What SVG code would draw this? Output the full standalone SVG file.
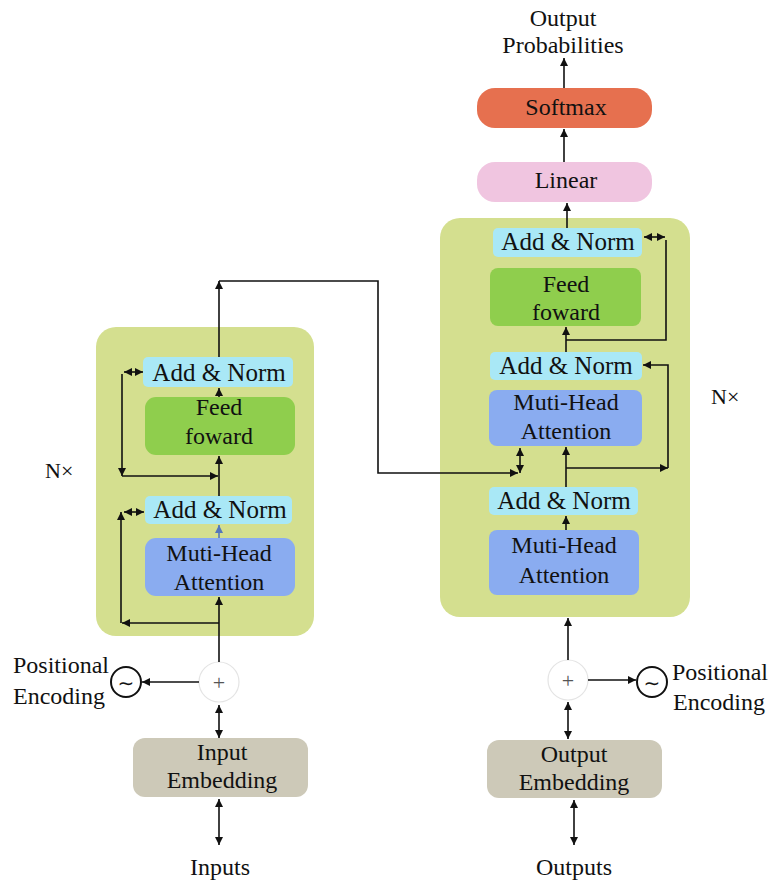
<svg xmlns="http://www.w3.org/2000/svg" width="772" height="883" viewBox="0 0 772 883">
<style>
text{font-family:"Liberation Serif","Times New Roman",serif;font-size:24px;fill:#111;text-anchor:middle}
.big{font-size:25px}
.cont{fill:#d4df8f}
.an{fill:#a9e8f6}
.ff{fill:#8fce4d}
.mha{fill:#8aacf0}
.emb{fill:#cdc9b8}
.ln{stroke:#111;stroke-width:1.6;fill:none}
.pe{fill:#fff;stroke:#111;stroke-width:2}
.plus{fill:#fff;stroke:#e4e4e4;stroke-width:1.2}
.lab{text-anchor:start}
</style>
<defs>
<marker id="ah" viewBox="0 0 10 10" refX="10" refY="5" markerWidth="9" markerHeight="8" markerUnits="userSpaceOnUse" orient="auto-start-reverse"><path d="M0,0 L10,5 L0,10 z" fill="#111"/></marker>
<marker id="ahb" viewBox="0 0 10 10" refX="10" refY="5" markerWidth="9" markerHeight="8" markerUnits="userSpaceOnUse" orient="auto"><path d="M0,0 L10,5 L0,10 z" fill="#5577bb"/></marker>
</defs>
<rect width="772" height="883" fill="#fff"/>

<g id="encoder">
<rect class="cont" x="96" y="327" width="218" height="309" rx="20"/>
</g>
<g id="decoder">
<rect class="cont" x="440" y="218" width="250" height="399" rx="20"/>
</g>

<g id="enc-addnorm2"><rect class="an" x="143" y="357" width="150" height="30" rx="5"/><text class="big" x="219" y="381">Add &amp; Norm</text></g>
<g id="enc-ff"><rect class="ff" x="145" y="397" width="150" height="58" rx="11"/><text x="219" y="415">Feed</text><text x="219" y="444">foward</text></g>
<g id="enc-addnorm1"><rect class="an" x="145" y="496" width="147" height="28" rx="5"/><text class="big" x="220" y="518">Add &amp; Norm</text></g>
<g id="enc-mha"><rect class="mha" x="145" y="538" width="150" height="58" rx="11"/><text x="219" y="561">Muti-Head</text><text x="219" y="590">Attention</text></g>

<g id="dec-addnorm3"><rect class="an" x="493" y="228" width="149" height="29" rx="5"/><text class="big" x="568" y="250">Add &amp; Norm</text></g>
<g id="dec-ff"><rect class="ff" x="490" y="268" width="151" height="58" rx="8"/><text x="566" y="292">Feed</text><text x="566" y="320">foward</text></g>
<g id="dec-addnorm2"><rect class="an" x="490" y="352" width="152" height="28" rx="5"/><text class="big" x="566" y="374">Add &amp; Norm</text></g>
<g id="dec-mha2"><rect class="mha" x="489" y="390" width="153" height="56" rx="8"/><text x="566" y="410">Muti-Head</text><text x="566" y="439">Attention</text></g>
<g id="dec-addnorm1"><rect class="an" x="489" y="487" width="149" height="28" rx="5"/><text class="big" x="564" y="509">Add &amp; Norm</text></g>
<g id="dec-mha1"><rect class="mha" x="489" y="530" width="150" height="65" rx="8"/><text x="564" y="553">Muti-Head</text><text x="564" y="583">Attention</text></g>

<g id="linear"><rect x="477" y="162" width="175" height="40" rx="18" fill="#f0c5e0"/><text x="566" y="188">Linear</text></g>
<g id="softmax"><rect x="477" y="88" width="175" height="40" rx="18" fill="#e6704f"/><text x="566" y="115">Softmax</text></g>
<g id="out-prob"><text x="563" y="26">Output</text><text x="563" y="53">Probabilities</text></g>

<g id="enc-plus"><circle class="plus" cx="219" cy="682" r="20"/><text x="219" y="690" style="fill:#555;font-size:22px">+</text></g>
<g id="enc-pe"><circle class="pe" cx="126" cy="682" r="15"/><text x="126" y="690" style="font-family:'DejaVu Sans',sans-serif;font-size:20px">∼</text><text class="lab" x="13" y="673">Positional</text><text class="lab" x="13" y="704">Encoding</text></g>
<g id="enc-emb"><rect class="emb" x="133" y="738" width="175" height="59" rx="12"/><text x="222" y="760">Input</text><text x="222" y="788">Embedding</text></g>
<g id="inputs"><text x="220" y="875">Inputs</text></g>

<g id="dec-plus"><circle class="plus" cx="568" cy="680" r="20"/><text x="568" y="688" style="fill:#555;font-size:22px">+</text></g>
<g id="dec-pe"><circle class="pe" cx="652" cy="682" r="15"/><text x="652" y="690" style="font-family:'DejaVu Sans',sans-serif;font-size:20px">∼</text><text class="lab" x="672" y="680">Positional</text><text class="lab" x="673" y="710">Encoding</text></g>
<g id="dec-emb"><rect class="emb" x="487" y="740" width="175" height="58" rx="12"/><text x="574" y="762">Output</text><text x="574" y="790">Embedding</text></g>
<g id="outputs"><text x="574" y="875">Outputs</text></g>

<g id="nx-left"><text class="lab" x="45" y="478" style="font-size:22px">N×</text></g>
<g id="nx-right"><text class="lab" x="711" y="404" style="font-size:22px">N×</text></g>

<g id="connectors">
<!-- encoder -->
<path class="ln" d="M219,662 V597" marker-end="url(#ah)"/>
<path class="ln" d="M219,623 H122" marker-end="url(#ah)"/>
<path class="ln" d="M121,623 V512" marker-end="url(#ah)"/>
<path class="ln" d="M124,512 H144" marker-start="url(#ah)" marker-end="url(#ah)"/>
<path d="M219,538 V525" stroke="#5577bb" stroke-width="1.6" fill="none" marker-end="url(#ahb)"/>
<path class="ln" d="M219,496 V456" marker-end="url(#ah)"/>
<path class="ln" d="M122,374 V476" marker-end="url(#ah)"/>
<path class="ln" d="M122,476 H218" marker-end="url(#ah)"/>
<path class="ln" d="M124,372 H143" marker-start="url(#ah)" marker-end="url(#ah)"/>
<path class="ln" d="M219,397 V388" marker-end="url(#ah)"/>
<path class="ln" d="M219,357 V281" marker-end="url(#ah)"/>
<path class="ln" d="M219,281 H378 V473 H518" marker-end="url(#ah)"/>
<path class="ln" d="M520,473 V448" marker-start="url(#ah)" marker-end="url(#ah)"/>
<!-- decoder -->
<path class="ln" d="M568,660 V618" marker-end="url(#ah)"/>
<path class="ln" d="M566,530 V516" marker-end="url(#ah)"/>
<path class="ln" d="M566,487 V447" marker-end="url(#ah)"/>
<path class="ln" d="M566,468 H668" marker-end="url(#ah)"/>
<path class="ln" d="M668,468 V365 H643" marker-end="url(#ah)"/>
<path class="ln" d="M566,352 V327" marker-end="url(#ah)"/>
<path class="ln" d="M566,340 H666 V240"/>
<path class="ln" d="M644,237 H665" marker-start="url(#ah)" marker-end="url(#ah)"/>
<path class="ln" d="M567,228 V203" marker-end="url(#ah)"/>
<path class="ln" d="M564,162 V129" marker-end="url(#ah)"/>
<path class="ln" d="M564,88 V58" marker-end="url(#ah)"/>
<!-- bottom -->
<path class="ln" d="M199,682 H142" marker-end="url(#ah)"/>
<path class="ln" d="M219,705 V738" marker-start="url(#ah)" marker-end="url(#ah)"/>
<path class="ln" d="M219,799 V845" marker-start="url(#ah)" marker-end="url(#ah)"/>
<path class="ln" d="M588,680 H636" marker-end="url(#ah)"/>
<path class="ln" d="M568,702 V739" marker-start="url(#ah)" marker-end="url(#ah)"/>
<path class="ln" d="M574,800 V845" marker-start="url(#ah)" marker-end="url(#ah)"/>
</g>
</svg>
